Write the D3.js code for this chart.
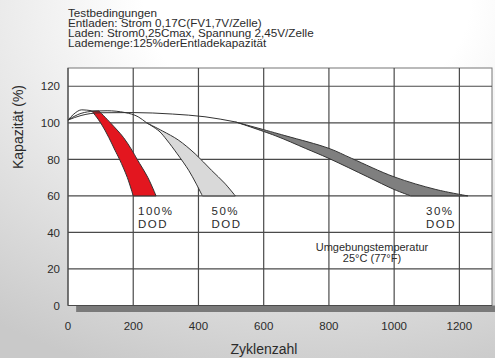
<!DOCTYPE html>
<html lang="de">
<head>
<meta charset="utf-8">
<title>Kapazität vs Zyklenzahl</title>
<script src="https://cdn.jsdelivr.net/npm/d3@7"></script>
<style>
    body { margin: 0; font-family: 'Liberation Sans', Arial, sans-serif; }
    svg { display: block; }
    text { fill: #2b2b2b; }
    .grid line { stroke: #4a4a4a; stroke-width: 1.2; }
    .tick-label { font-size: 11.5px; }
    .head { font-size: 10px; }
    .dod { font-size: 11.5px; letter-spacing: 1.5px; }
    .temp { font-size: 11px; }
    .axis-title { font-size: 14px; }
    .lead { fill: none; stroke: #333; stroke-width: 1; }
    .band { stroke: #333; stroke-width: 1; }
</style>
</head>
<body>
<svg width="495" height="358"></svg>
<script>
// tick values
const xTicks = [0, 200, 400, 600, 800, 1000, 1200];
const yTicks = [0, 20, 40, 60, 80, 100, 120];

const header = [
    'Testbedingungen',
    'Entladen: Strom 0,17C(FV1,7V/Zelle)',
    'Laden: Strom0,25Cmax, Spannung 2,45V/Zelle',
    'Lademenge:125%derEntladekapazität'
];

// lead-in lines from start (cycles, capacity %)
const lead100 = [[0, 101.5], [18, 104.8], [42, 107.1], [73, 106.6]];
const lead50 = [[0, 101.5], [30, 104.5], [70, 106.2], [120, 106.6], [175, 105.6], [215, 103.3], [241, 100]];
const lead30 = [[0, 101.5], [40, 104], [100, 105.5], [200, 105.6], [320, 104.8], [420, 103.3], [513, 100.5]];

// bands: capacity level, left (fewer cycles) and right edge in cycles
const band100Cap = [106.5, 100, 92, 85, 80, 70, 60];
const band100Lo = [73, 100, 125, 144, 158, 182, 200];
const band100Hi = [95, 130, 170, 196, 212, 245, 270];

const band50Cap = [100, 95.5, 90.6, 83, 74, 67, 60];
const band50Lo = [241, 279, 303, 335, 370, 392, 412];
const band50Hi = [241, 290, 338, 390, 440, 480, 513];

const band30Cap = [100.5, 93, 86, 80.5, 70.4, 63.5, 60];
const band30Lo = [513, 635, 728, 800, 919, 1000, 1051];
const band30Hi = [513, 665, 800, 870, 1000, 1128, 1226];

const svg = d3.select('svg');

// page background
const defs = svg.append('defs');
const grad = defs.append('radialGradient')
    .attr('id', 'bg')
    .attr('cx', '62%').attr('cy', '0%').attr('r', '110%');
grad.append('stop').attr('offset', '0.3').attr('stop-color', '#ffffff');
grad.append('stop').attr('offset', '1').attr('stop-color', '#c9c9c9');
svg.append('rect').attr('width', 495).attr('height', 358).attr('fill', 'url(#bg)');

const xScale = d3.scaleLinear().domain([0, 1300]).range([68, 492]);
const yScale = d3.scaleLinear().domain([0, 130]).range([305.5, 68]);

// drop shadow under the plot
svg.append('rect')
    .attr('x', xScale(25)).attr('y', yScale(0))
    .attr('width', 495 - xScale(25)).attr('height', 6.5)
    .attr('fill', '#7a7a7a');

// plot area
svg.append('rect')
    .attr('x', xScale(0)).attr('y', yScale(130))
    .attr('width', xScale(1300) - xScale(0))
    .attr('height', yScale(0) - yScale(130))
    .attr('fill', '#fff')
    .attr('stroke', '#777');

const grid = svg.append('g').attr('class', 'grid');
grid.selectAll('.v').data(xTicks).enter().append('line')
    .attr('x1', d => xScale(d)).attr('x2', d => xScale(d))
    .attr('y1', yScale(0)).attr('y2', yScale(130));
grid.selectAll('.h').data(yTicks).enter().append('line')
    .attr('x1', xScale(0)).attr('x2', xScale(1300))
    .attr('y1', d => yScale(d)).attr('y2', d => yScale(d));

// tick labels
svg.selectAll('.xl').data(xTicks).enter().append('text')
    .attr('class', 'tick-label')
    .attr('x', d => xScale(d)).attr('y', 329.5)
    .attr('text-anchor', 'middle')
    .text(d => d);
svg.selectAll('.yl').data(yTicks).enter().append('text')
    .attr('class', 'tick-label')
    .attr('x', 60).attr('y', d => yScale(d) + 4.2)
    .attr('text-anchor', 'end')
    .text(d => d);

// curves
const line = d3.line()
    .x(d => xScale(d[0]))
    .y(d => yScale(d[1]))
    .curve(d3.curveMonotoneX);

const band = d3.area()
    .y(d => yScale(d.cap))
    .x0(d => xScale(d.lo))
    .x1(d => xScale(d.hi))
    .curve(d3.curveCatmullRom.alpha(0.5));

function rows(cap, lo, hi) {
    return cap.map((c, i) => ({ cap: c, lo: lo[i], hi: hi[i] }));
}

const bands = [
    { rows: rows(band30Cap, band30Lo, band30Hi), color: '#7f7f7f' },
    { rows: rows(band50Cap, band50Lo, band50Hi), color: '#d9d9d9' },
    { rows: rows(band100Cap, band100Lo, band100Hi), color: '#e3161f' }
];

svg.selectAll('.band').data(bands).enter().append('path')
    .attr('class', 'band')
    .attr('fill', d => d.color)
    .attr('d', d => band(d.rows));

svg.selectAll('.lead').data([lead30, lead50, lead100]).enter().append('path')
    .attr('class', 'lead')
    .attr('d', line);

// DOD labels
const dodLabels = [
    { x: 138, t: '100%' },
    { x: 211.5, t: '50%' },
    { x: 426, t: '30%' }
];
dodLabels.forEach(l => {
    const t = svg.append('text').attr('class', 'dod').attr('x', l.x).attr('y', 215);
    t.append('tspan').attr('x', l.x).text(l.t);
    t.append('tspan').attr('x', l.x).attr('dy', 13).text('DOD');
});

const temp = svg.append('text').attr('class', 'temp')
    .attr('x', 372).attr('y', 250.5).attr('text-anchor', 'middle');
temp.append('tspan').attr('x', 372).text('Umgebungstemperatur');
temp.append('tspan').attr('x', 372).attr('dy', 11.5).text('25°C (77°F)');

// header, slightly stretched like the original
svg.append('g')
    .attr('transform', 'translate(68,0) scale(1.17,1)')
    .selectAll('text').data(header).enter().append('text')
    .attr('class', 'head')
    .attr('x', 0)
    .attr('y', (d, i) => 16.8 + i * 10)
    .text(d => d);

// axis titles
svg.append('text')
    .attr('class', 'axis-title')
    .attr('x', 264).attr('y', 354)
    .attr('text-anchor', 'middle')
    .text('Zyklenzahl');

svg.append('text')
    .attr('class', 'axis-title')
    .attr('transform', 'translate(23,127) rotate(-90)')
    .attr('text-anchor', 'middle')
    .text('Kapazität (%)');
</script>
</body>
</html>
